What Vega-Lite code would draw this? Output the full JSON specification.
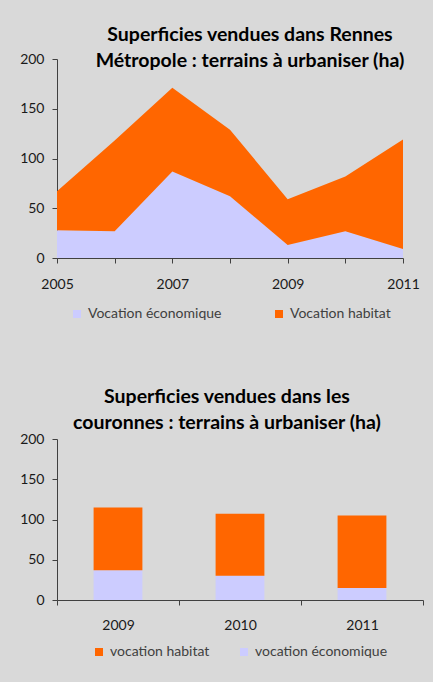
{
  "$schema": "https://vega.github.io/schema/vega-lite/v6.json",
  "background": "#d9d9d9",
  "padding": {"left": 8, "top": 24, "right": 15, "bottom": 30},
  "spacing": 65,
  "columns": 1,
  "align": "none",
  "config": {
    "font": "Lato",
    "view": {"stroke": null},
    "axis": {
      "grid": false,
      "domainColor": "#404040",
      "tickColor": "#404040",
      "labelColor": "#1a1a1a",
      "labelFont": "Lato",
      "labelFontSize": 14,
      "tickSize": 5,
      "title": null
    },
    "legend": {
      "labelFont": "Lato",
      "labelFontSize": 14,
      "labelColor": "#404040",
      "symbolType": "square",
      "symbolSize": 64,
      "symbolStrokeWidth": 0,
      "labelOffset": 4,
      "layout": {"bottom": {"anchor": "middle"}}
    }
  },
  "resolve": {
    "scale": {"color": "independent", "x": "independent", "y": "independent"},
    "legend": {"color": "independent"}
  },
  "concat": [
    {
      "title": {
        "text": ["Superficies vendues dans Rennes", "Métropole : terrains à urbaniser (ha)"],
        "font": "Lato",
        "fontSize": 19.5,
        "fontWeight": "bold",
        "color": "#000000",
        "lineHeight": 26,
        "anchor": "middle",
        "frame": "group",
        "dx": 20,
        "offset": -19
      },
      "width": 346,
      "height": 199,
      "data": {
        "values": [
          {"year": 2005, "type": "Vocation économique", "value": 28},
          {"year": 2006, "type": "Vocation économique", "value": 27},
          {"year": 2007, "type": "Vocation économique", "value": 87},
          {"year": 2008, "type": "Vocation économique", "value": 62},
          {"year": 2009, "type": "Vocation économique", "value": 13},
          {"year": 2010, "type": "Vocation économique", "value": 27},
          {"year": 2011, "type": "Vocation économique", "value": 9},
          {"year": 2005, "type": "Vocation habitat", "value": 39},
          {"year": 2006, "type": "Vocation habitat", "value": 91},
          {"year": 2007, "type": "Vocation habitat", "value": 84},
          {"year": 2008, "type": "Vocation habitat", "value": 67},
          {"year": 2009, "type": "Vocation habitat", "value": 46},
          {"year": 2010, "type": "Vocation habitat", "value": 55},
          {"year": 2011, "type": "Vocation habitat", "value": 110}
        ]
      },
      "mark": {"type": "area", "opacity": 1, "line": false},
      "encoding": {
        "x": {
          "field": "year",
          "type": "quantitative",
          "scale": {"domain": [2005, 2011], "nice": false, "zero": false},
          "axis": {
            "values": [2005, 2006, 2007, 2008, 2009, 2010, 2011],
            "format": "d",
            "labelExpr": "datum.value % 2 == 1 ? datum.label : ''",
            "labelFlush": false,
            "labelPadding": 14
          }
        },
        "y": {
          "field": "value",
          "type": "quantitative",
          "stack": "zero",
          "scale": {"domain": [0, 200], "nice": false},
          "axis": {"values": [0, 50, 100, 150, 200], "labelPadding": 8, "minExtent": 49}
        },
        "color": {
          "field": "type",
          "type": "nominal",
          "scale": {"domain": ["Vocation économique", "Vocation habitat"], "range": ["#ccccff", "#ff6600"]},
          "legend": {"orient": "bottom", "direction": "horizontal", "title": null, "columnPadding": 50, "offset": 16}
        },
        "order": {"field": "type", "sort": "descending"}
      }
    },
    {
      "title": {
        "text": ["Superficies vendues dans les", "couronnes : terrains à urbaniser (ha)"],
        "font": "Lato",
        "fontSize": 19.5,
        "fontWeight": "bold",
        "color": "#000000",
        "lineHeight": 26,
        "anchor": "middle",
        "frame": "group",
        "dx": -13,
        "offset": -1
      },
      "width": 366,
      "height": 161,
      "data": {
        "values": [
          {"year": "2009", "type": "vocation économique", "value": 37},
          {"year": "2010", "type": "vocation économique", "value": 30},
          {"year": "2011", "type": "vocation économique", "value": 15},
          {"year": "2009", "type": "vocation habitat", "value": 78},
          {"year": "2010", "type": "vocation habitat", "value": 77},
          {"year": "2011", "type": "vocation habitat", "value": 90}
        ]
      },
      "mark": {"type": "bar", "width": {"band": 0.4}},
      "encoding": {
        "x": {
          "field": "year",
          "type": "ordinal",
          "scale": {"paddingInner": 0, "paddingOuter": 0},
          "axis": {"labelAngle": 0, "tickBand": "extent", "labelPadding": 13}
        },
        "y": {
          "field": "value",
          "type": "quantitative",
          "stack": "zero",
          "scale": {"domain": [0, 200], "nice": false},
          "axis": {"values": [0, 50, 100, 150, 200], "labelPadding": 8, "minExtent": 45}
        },
        "color": {
          "field": "type",
          "type": "nominal",
          "scale": {"domain": ["vocation habitat", "vocation économique"], "range": ["#ff6600", "#ccccff"]},
          "legend": {"orient": "bottom", "direction": "horizontal", "title": null, "columnPadding": 27, "offset": 13}
        },
        "order": {"field": "type", "sort": "descending"}
      }
    }
  ]
}
